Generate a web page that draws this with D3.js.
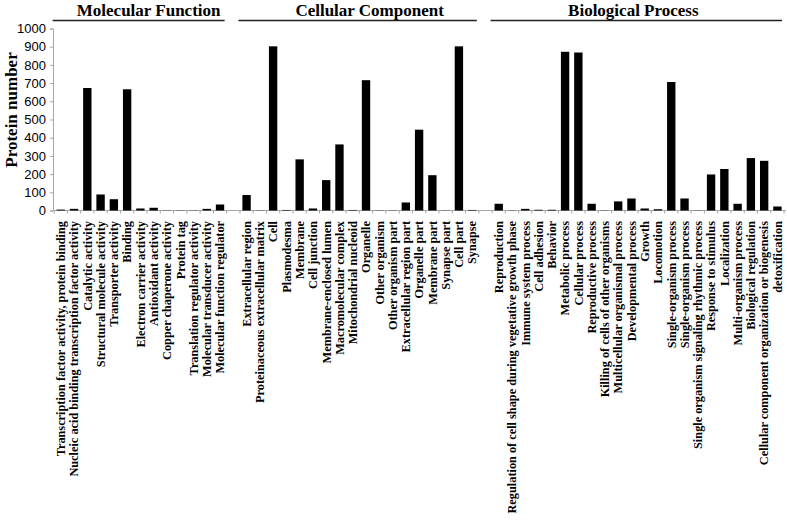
<!DOCTYPE html>
<html>
<head>
<meta charset="utf-8">
<script src="https://cdn.jsdelivr.net/npm/d3@7"></script>
<style>
  html, body { margin: 0; padding: 0; background: #fff; }
  svg { display: block; }
</style>
</head>
<body>
<script>
// ---- Data ----
const groupTitles = ["Molecular Function", "Cellular Component", "Biological Process"];

const mfCategories = [
  "Transcription factor activity, protein binding",
  "Nucleic acid binding transcription factor activity",
  "Catalytic activity",
  "Structural molecule activity",
  "Transporter activity",
  "Binding",
  "Electron carrier activity",
  "Antioxidant activity",
  "Copper chaperone activity",
  "Protein tag",
  "Translation regulator activity",
  "Molecular transducer activity",
  "Molecular function regulator"
];
const mfValues = [5, 9, 673, 88, 62, 666, 11, 15, 1, 1, 1, 9, 33];

const ccCategories = [
  "Extracellular region",
  "Proteinaceous extracellular matrix",
  "Cell",
  "Plasmodesma",
  "Membrane",
  "Cell junction",
  "Membrane-enclosed lumen",
  "Macromolecular complex",
  "Mitochondrial nucleoid",
  "Organelle",
  "Other organism",
  "Other organism part",
  "Extracellular region part",
  "Organelle part",
  "Membrane part",
  "Synapse part",
  "Cell part",
  "Synapse"
];
const ccValues = [85, 1, 902, 3, 281, 11, 167, 363, 3, 716, 1, 1, 44, 444, 194, 1, 902, 3];

const bpCategories = [
  "Reproduction",
  "Regulation of cell shape during vegetative growth phase",
  "Immune system process",
  "Cell adhesion",
  "Behavior",
  "Metabolic process",
  "Cellular process",
  "Reproductive process",
  "Killing of cells of other organisms",
  "Multicellular organismal process",
  "Developmental process",
  "Growth",
  "Locomotion",
  "Single-organism process",
  "Single-organism process",
  "Single organism signaling rhythmic process",
  "Response to stimulus",
  "Localization",
  "Multi-organism process",
  "Biological regulation",
  "Cellular component organization or biogenesis",
  "detoxification"
];
const bpValues = [37, 1, 9, 4, 4, 872, 868, 37, 1, 50, 66, 11, 7, 706, 66, 1, 198, 228, 37, 288, 273, 22];

const yTicks = [0, 100, 200, 300, 400, 500, 600, 700, 800, 900, 1000];
const yTitle = "Protein number";

// ---- Build slots (with one empty slot between groups) ----
const groups = [
  { title: groupTitles[0], cats: mfCategories, vals: mfValues, dx: 10 },
  { title: groupTitles[1], cats: ccCategories, vals: ccValues, dx: 12 },
  { title: groupTitles[2], cats: bpCategories, vals: bpValues, dx: -3 }
];
const slots = [];
groups.forEach((g, gi) => {
  g.keys = [];
  g.cats.forEach((c, i) => {
    const key = "g" + gi + "_" + i;
    g.keys.push(key);
    slots.push({ key, label: c, value: g.vals[i] });
  });
  if (gi < groups.length - 1) slots.push({ key: "gap" + gi, label: "", value: null });
});

// ---- Layout ----
const W = 787, H = 524;
const svg = d3.select("body").append("svg").attr("width", W).attr("height", H);

const x = d3.scaleBand()
  .domain(slots.map(d => d.key))
  .range([54.2, 784])
  .paddingInner(0.37)
  .paddingOuter(0.18);

const y = d3.scaleLinear().domain([0, 1000]).range([210.5, 28.5]);

const axisColor = "#a6a6a6";

// y axis
const yAxis = d3.axisLeft(y).tickValues(yTicks).tickSize(3).tickPadding(4).tickFormat(d3.format("d"));
const gy = svg.append("g").attr("transform", "translate(53,0)").call(yAxis);
gy.select(".domain").attr("stroke", axisColor).attr("stroke-width", 1);
gy.selectAll(".tick line").attr("stroke", axisColor);
gy.selectAll(".tick text")
  .attr("fill", "#000")
  .style("font-family", "'Liberation Sans', Arial, sans-serif")
  .style("font-size", "13px");

// x axis line and ticks at slot boundaries
svg.append("line")
  .attr("x1", 53).attr("x2", 786)
  .attr("y1", y(0)).attr("y2", y(0))
  .attr("stroke", axisColor).attr("stroke-width", 1);

const step = x.step();
const boundaries = slots.map(d => x(d.key) - (step - x.bandwidth()) / 2);
boundaries.push(boundaries[boundaries.length - 1] + step);
svg.append("g").selectAll("line").data(boundaries).join("line")
  .attr("x1", d => d).attr("x2", d => d)
  .attr("y1", y(0)).attr("y2", y(0) + 3)
  .attr("stroke", axisColor).attr("stroke-width", 1);

// bars
svg.append("g").selectAll("rect")
  .data(slots.filter(d => d.value !== null))
  .join("rect")
  .attr("x", d => x(d.key))
  .attr("width", x.bandwidth())
  .attr("y", d => y(d.value))
  .attr("height", d => y(0) - y(d.value))
  .attr("fill", "#000");

// x labels
svg.append("g").selectAll("text")
  .data(slots.filter(d => d.label))
  .join("text")
  .attr("transform", d => `translate(${x(d.key) + x.bandwidth() / 2},221) rotate(-90)`)
  .attr("text-anchor", "end")
  .attr("dy", "0.35em")
  .style("font-family", "'Liberation Serif', 'Times New Roman', serif")
  .style("font-weight", "bold")
  .style("font-size", "12.3px")
  .attr("fill", "#000")
  .text(d => d.label);

// group titles and lines
groups.forEach(g => {
  const x0 = x(g.keys[0]) - (step - x.bandwidth()) / 2 - 1.5;
  const x1 = x(g.keys[g.keys.length - 1]) + x.bandwidth() + (step - x.bandwidth()) / 2 - 2;
  svg.append("line")
    .attr("x1", x0).attr("x2", x1)
    .attr("y1", 20.5).attr("y2", 20.5)
    .attr("stroke", "#222").attr("stroke-width", 1.5);
  svg.append("text")
    .attr("x", (x0 + x1) / 2 + g.dx)
    .attr("y", 15.5)
    .attr("text-anchor", "middle")
    .style("font-family", "'Liberation Serif', 'Times New Roman', serif")
    .style("font-weight", "bold")
    .style("font-size", "17px")
    .attr("fill", "#000")
    .text(g.title);
});

// y title
svg.append("text")
  .attr("transform", "translate(16.5,110) rotate(-90)")
  .attr("text-anchor", "middle")
  .style("font-family", "'Liberation Serif', 'Times New Roman', serif")
  .style("font-weight", "bold")
  .style("font-size", "17px")
  .attr("fill", "#000")
  .text(yTitle);
</script>
</body>
</html>
